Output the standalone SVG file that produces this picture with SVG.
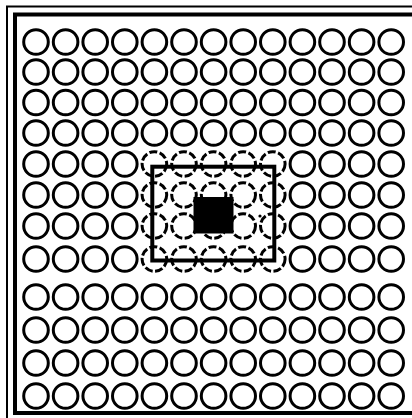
<svg xmlns="http://www.w3.org/2000/svg" width="412" height="418" viewBox="0 0 412 418">
<style>
.c{fill:none;stroke:#000;stroke-width:3}
.d{fill:none;stroke:#000;stroke-width:3;stroke-dasharray:8 2.5}
.frame{fill:none;stroke:#000}
</style>
<defs>
<circle id="o" r="12.3" class="c"/>
<circle id="od" r="12.3" class="d"/>
</defs>
<rect width="412" height="418" fill="#fff"/>
<rect class="frame" x="7" y="6.5" width="420" height="420" stroke-width="2"/>
<rect class="frame" x="15" y="14.5" width="410" height="398.5" stroke-width="4"/>
<g id="grid">
<g id="row0" transform="translate(0,42)"><use href="#o" x="36"/><use href="#o" x="65.6"/><use href="#o" x="95.2"/><use href="#o" x="124.8"/><use href="#o" x="154.4"/><use href="#o" x="184"/><use href="#o" x="213.6"/><use href="#o" x="243.2"/><use href="#o" x="272.8"/><use href="#o" x="302.4"/><use href="#o" x="332"/><use href="#o" x="361.6"/><use href="#o" x="391.2"/></g>
<g id="row1" transform="translate(0,72)"><use href="#o" x="36"/><use href="#o" x="65.6"/><use href="#o" x="95.2"/><use href="#o" x="124.8"/><use href="#o" x="154.4"/><use href="#o" x="184"/><use href="#o" x="213.6"/><use href="#o" x="243.2"/><use href="#o" x="272.8"/><use href="#o" x="302.4"/><use href="#o" x="332"/><use href="#o" x="361.6"/><use href="#o" x="391.2"/></g>
<g id="row2" transform="translate(0,102.5)"><use href="#o" x="36"/><use href="#o" x="65.6"/><use href="#o" x="95.2"/><use href="#o" x="124.8"/><use href="#o" x="154.4"/><use href="#o" x="184"/><use href="#o" x="213.6"/><use href="#o" x="243.2"/><use href="#o" x="272.8"/><use href="#o" x="302.4"/><use href="#o" x="332"/><use href="#o" x="361.6"/><use href="#o" x="391.2"/></g>
<g id="row3" transform="translate(0,133)"><use href="#o" x="36"/><use href="#o" x="65.6"/><use href="#o" x="95.2"/><use href="#o" x="124.8"/><use href="#o" x="154.4"/><use href="#o" x="184"/><use href="#o" x="213.6"/><use href="#o" x="243.2"/><use href="#o" x="272.8"/><use href="#o" x="302.4"/><use href="#o" x="332"/><use href="#o" x="361.6"/><use href="#o" x="391.2"/></g>
<g id="row4" transform="translate(0,164)"><use href="#o" x="36"/><use href="#o" x="65.6"/><use href="#o" x="95.2"/><use href="#o" x="124.8"/><use href="#od" x="154.4"/><use href="#od" x="184"/><use href="#od" x="213.6"/><use href="#od" x="243.2"/><use href="#od" x="272.8"/><use href="#o" x="302.4"/><use href="#o" x="332"/><use href="#o" x="361.6"/><use href="#o" x="391.2"/></g>
<g id="row5" transform="translate(0,195)"><use href="#o" x="36"/><use href="#o" x="65.6"/><use href="#o" x="95.2"/><use href="#o" x="124.8"/><use href="#od" x="154.4"/><use href="#od" x="184"/><use href="#od" x="213.6"/><use href="#od" x="243.2"/><use href="#od" x="272.8"/><use href="#o" x="302.4"/><use href="#o" x="332"/><use href="#o" x="361.6"/><use href="#o" x="391.2"/></g>
<g id="row6" transform="translate(0,226)"><use href="#o" x="36"/><use href="#o" x="65.6"/><use href="#o" x="95.2"/><use href="#o" x="124.8"/><use href="#od" x="154.4"/><use href="#od" x="184"/><use href="#od" x="213.6"/><use href="#od" x="243.2"/><use href="#od" x="272.8"/><use href="#o" x="302.4"/><use href="#o" x="332"/><use href="#o" x="361.6"/><use href="#o" x="391.2"/></g>
<g id="row7" transform="translate(0,259)"><use href="#o" x="36"/><use href="#o" x="65.6"/><use href="#o" x="95.2"/><use href="#o" x="124.8"/><use href="#od" x="154.4"/><use href="#od" x="184"/><use href="#od" x="213.6"/><use href="#od" x="243.2"/><use href="#od" x="272.8"/><use href="#o" x="302.4"/><use href="#o" x="332"/><use href="#o" x="361.6"/><use href="#o" x="391.2"/></g>
<g id="row8" transform="translate(0,297)"><use href="#o" x="36"/><use href="#o" x="65.6"/><use href="#o" x="95.2"/><use href="#o" x="124.8"/><use href="#o" x="154.4"/><use href="#o" x="184"/><use href="#o" x="213.6"/><use href="#o" x="243.2"/><use href="#o" x="272.8"/><use href="#o" x="302.4"/><use href="#o" x="332"/><use href="#o" x="361.6"/><use href="#o" x="391.2"/></g>
<g id="row9" transform="translate(0,330)"><use href="#o" x="36"/><use href="#o" x="65.6"/><use href="#o" x="95.2"/><use href="#o" x="124.8"/><use href="#o" x="154.4"/><use href="#o" x="184"/><use href="#o" x="213.6"/><use href="#o" x="243.2"/><use href="#o" x="272.8"/><use href="#o" x="302.4"/><use href="#o" x="332"/><use href="#o" x="361.6"/><use href="#o" x="391.2"/></g>
<g id="row10" transform="translate(0,363)"><use href="#o" x="36"/><use href="#o" x="65.6"/><use href="#o" x="95.2"/><use href="#o" x="124.8"/><use href="#o" x="154.4"/><use href="#o" x="184"/><use href="#o" x="213.6"/><use href="#o" x="243.2"/><use href="#o" x="272.8"/><use href="#o" x="302.4"/><use href="#o" x="332"/><use href="#o" x="361.6"/><use href="#o" x="391.2"/></g>
<g id="row11" transform="translate(0,396)"><use href="#o" x="36"/><use href="#o" x="65.6"/><use href="#o" x="95.2"/><use href="#o" x="124.8"/><use href="#o" x="154.4"/><use href="#o" x="184"/><use href="#o" x="213.6"/><use href="#o" x="243.2"/><use href="#o" x="272.8"/><use href="#o" x="302.4"/><use href="#o" x="332"/><use href="#o" x="361.6"/><use href="#o" x="391.2"/></g>
</g>
<g id="window">
<rect x="152.3" y="166.7" width="122" height="93.8" fill="none" stroke="#000" stroke-width="4"/>
<rect x="193.5" y="197" width="40" height="36.5" fill="#000"/>
<circle cx="260" cy="216" r="1.6" fill="#000"/>
</g>
</svg>
